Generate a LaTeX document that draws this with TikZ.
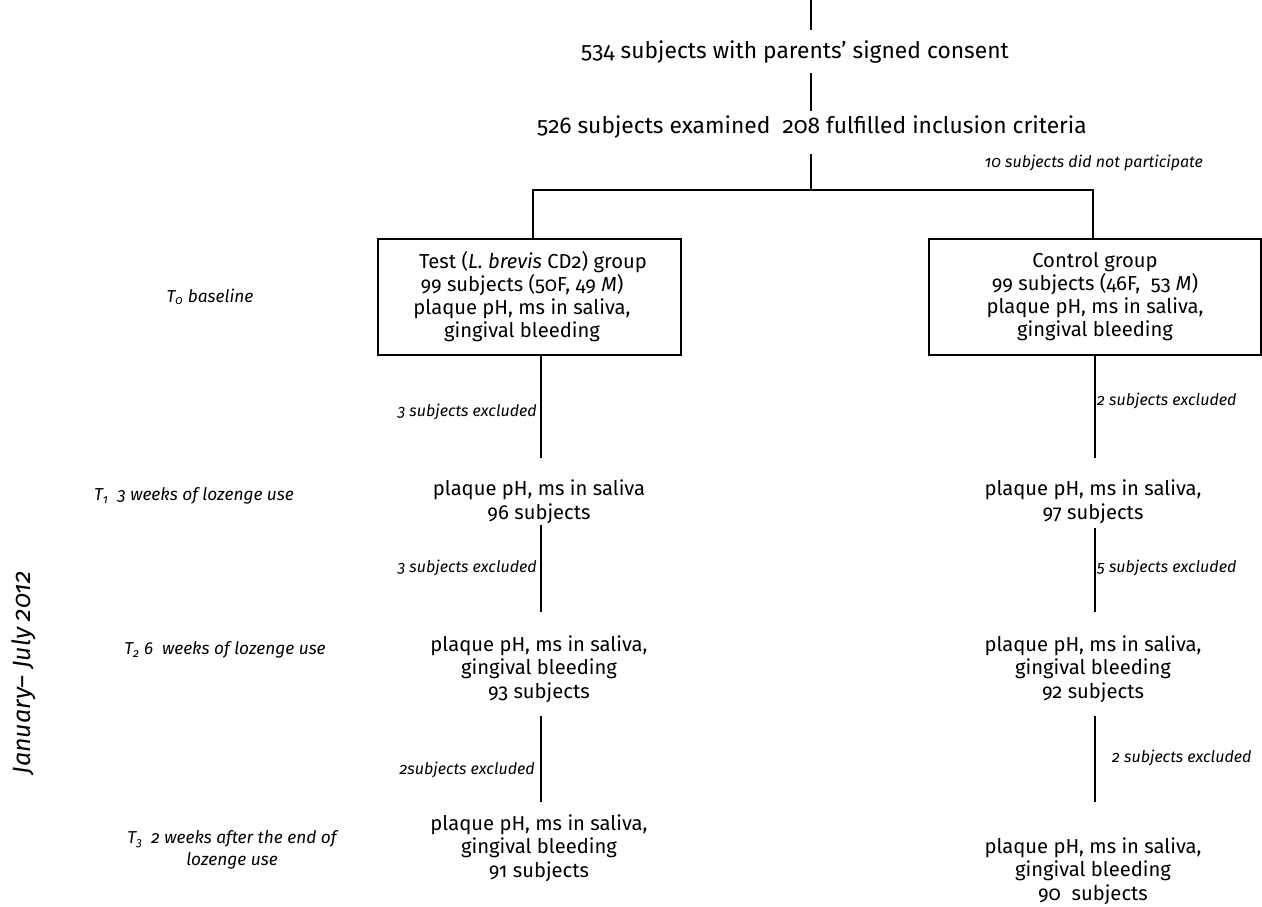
\documentclass[tikz,border=0pt]{standalone}
\usepackage{fontspec}
\setmainfont{Fira Sans}[Numbers=OldStyle]
\begin{document}
\begin{tikzpicture}[x=1pt,y=-1pt,
  conn/.style={line width=2.8pt},
  big/.style={inner sep=0pt, font=\fontsize{22.8}{26}\selectfont},
  txt/.style={inner sep=0pt, align=center, font=\fontsize{20.2}{23.5}\selectfont},
  boxnode/.style={draw, line width=2.2pt, minimum height=116pt, inner sep=0pt},
  boxtxt/.style={inner sep=0pt, align=center, font=\fontsize{20.2}{23}\selectfont},
  note/.style={inner sep=0pt, font=\fontsize{16}{18}\selectfont\itshape},
  tlab/.style={inner sep=0pt, align=center, font=\fontsize{17.3}{22}\selectfont\itshape}]
\useasboundingbox (0,0) rectangle (1262,906);

% top part
\coordinate (top) at (811,0);
\node[big] (consent) at (795,52) {534 subjects with parents’ signed consent};
\node[big] (exam) at (812,127) {526 subjects examined\ \ 208 fulfilled inclusion criteria};
\node[note, anchor=east] (nopart) at (1203,163) {10 subjects did not participate};
\coordinate (c1e) at (811,30);
\coordinate (c2s) at (811,73);
\coordinate (c2e) at (811,111);
\coordinate (c3s) at (811,154);
\coordinate (split) at (811,190);
\coordinate (lsplit) at (533,190);
\coordinate (rsplit) at (1093,190);

% group boxes
\node[boxnode, minimum width=303pt] (test) at (529.5,297) {};
\node[boxtxt] (testtxt) at (522,297) {\hspace*{22pt}Test (\textit{L. brevis} CD2) group\\99 subjects (50F, 49 \textit{M})\\plaque pH, ms in saliva,\\gingival bleeding};
\node[boxnode, minimum width=332pt] (ctrl) at (1095,297) {};
\node[boxtxt] (ctrltxt) at (1095,297) {Control group\\99 subjects (46F,\ \ 53 \textit{M})\\plaque pH, ms in saliva,\\gingival bleeding};

% measurement rows
\node[txt] (t1L) at (539,502) {plaque pH, ms in saliva\\96 subjects};
\node[txt] (t1R) at (1093,502) {plaque pH, ms in saliva,\\97 subjects};
\node[txt] (t2L) at (539,669) {plaque pH, ms in saliva,\\gingival bleeding\\93 subjects};
\node[txt] (t2R) at (1093,669) {plaque pH, ms in saliva,\\gingival bleeding\\92 subjects};
\node[txt] (t3L) at (539,848) {plaque pH, ms in saliva,\\gingival bleeding\\91 subjects};
\node[txt] (t3R) at (1093,871) {plaque pH, ms in saliva,\\gingival bleeding\\90\ \ subjects};

% time labels
\node[tlab] (T0) at (210,297) {T\textsubscript{0} baseline};
\node[tlab] (T1) at (194,496) {T\textsubscript{1}\ \ 3 weeks of lozenge use};
\node[tlab] (T2) at (225,650) {T\textsubscript{2} 6\ \ weeks of lozenge use};
\node[tlab] (T3) at (232,850) {T\textsubscript{3}\ \ 2 weeks after the end of\\lozenge use};
\node[inner sep=0pt, rotate=90, font=\fontsize{25}{28}\selectfont\itshape] (period) at (24,673) {January– July 2012};

% column coordinates
\coordinate (L1e) at (541,458); \coordinate (L2s) at (541,525); \coordinate (L2e) at (541,612);
\coordinate (L3s) at (541,716); \coordinate (L3e) at (541,802);
\coordinate (R1e) at (1095,458); \coordinate (R2s) at (1095,528); \coordinate (R2e) at (1095,612);
\coordinate (R3s) at (1095,716); \coordinate (R3e) at (1095,802);

% connectors
\draw[conn] (top) -- (c1e);
\draw[conn] (c2s) -- (c2e);
\draw[conn] (c3s) -- (split);
\draw[conn] (test.north -| lsplit) -- (lsplit) -- (rsplit) -- (ctrl.north -| rsplit);
\draw[conn] (test.south -| L1e) -- (L1e);
\draw[conn] (ctrl.south -| R1e) -- (R1e);
\draw[conn] (L2s) -- (L2e);
\draw[conn] (R2s) -- (R2e);
\draw[conn] (L3s) -- (L3e);
\draw[conn] (R3s) -- (R3e);

% exclusion labels
\node[note, anchor=east] (x1L) at (537,412) {3 subjects excluded};
\node[note, anchor=west] (x1R) at (1097,401) {2 subjects excluded};
\node[note, anchor=east] (x2L) at (537,568) {3 subjects excluded};
\node[note, anchor=west] (x2R) at (1097,568) {5 subjects excluded};
\node[note, anchor=east] (x3L) at (535,770) {2subjects excluded};
\node[note, anchor=west] (x3R) at (1112,758) {2 subjects excluded};
\end{tikzpicture}
\end{document}
